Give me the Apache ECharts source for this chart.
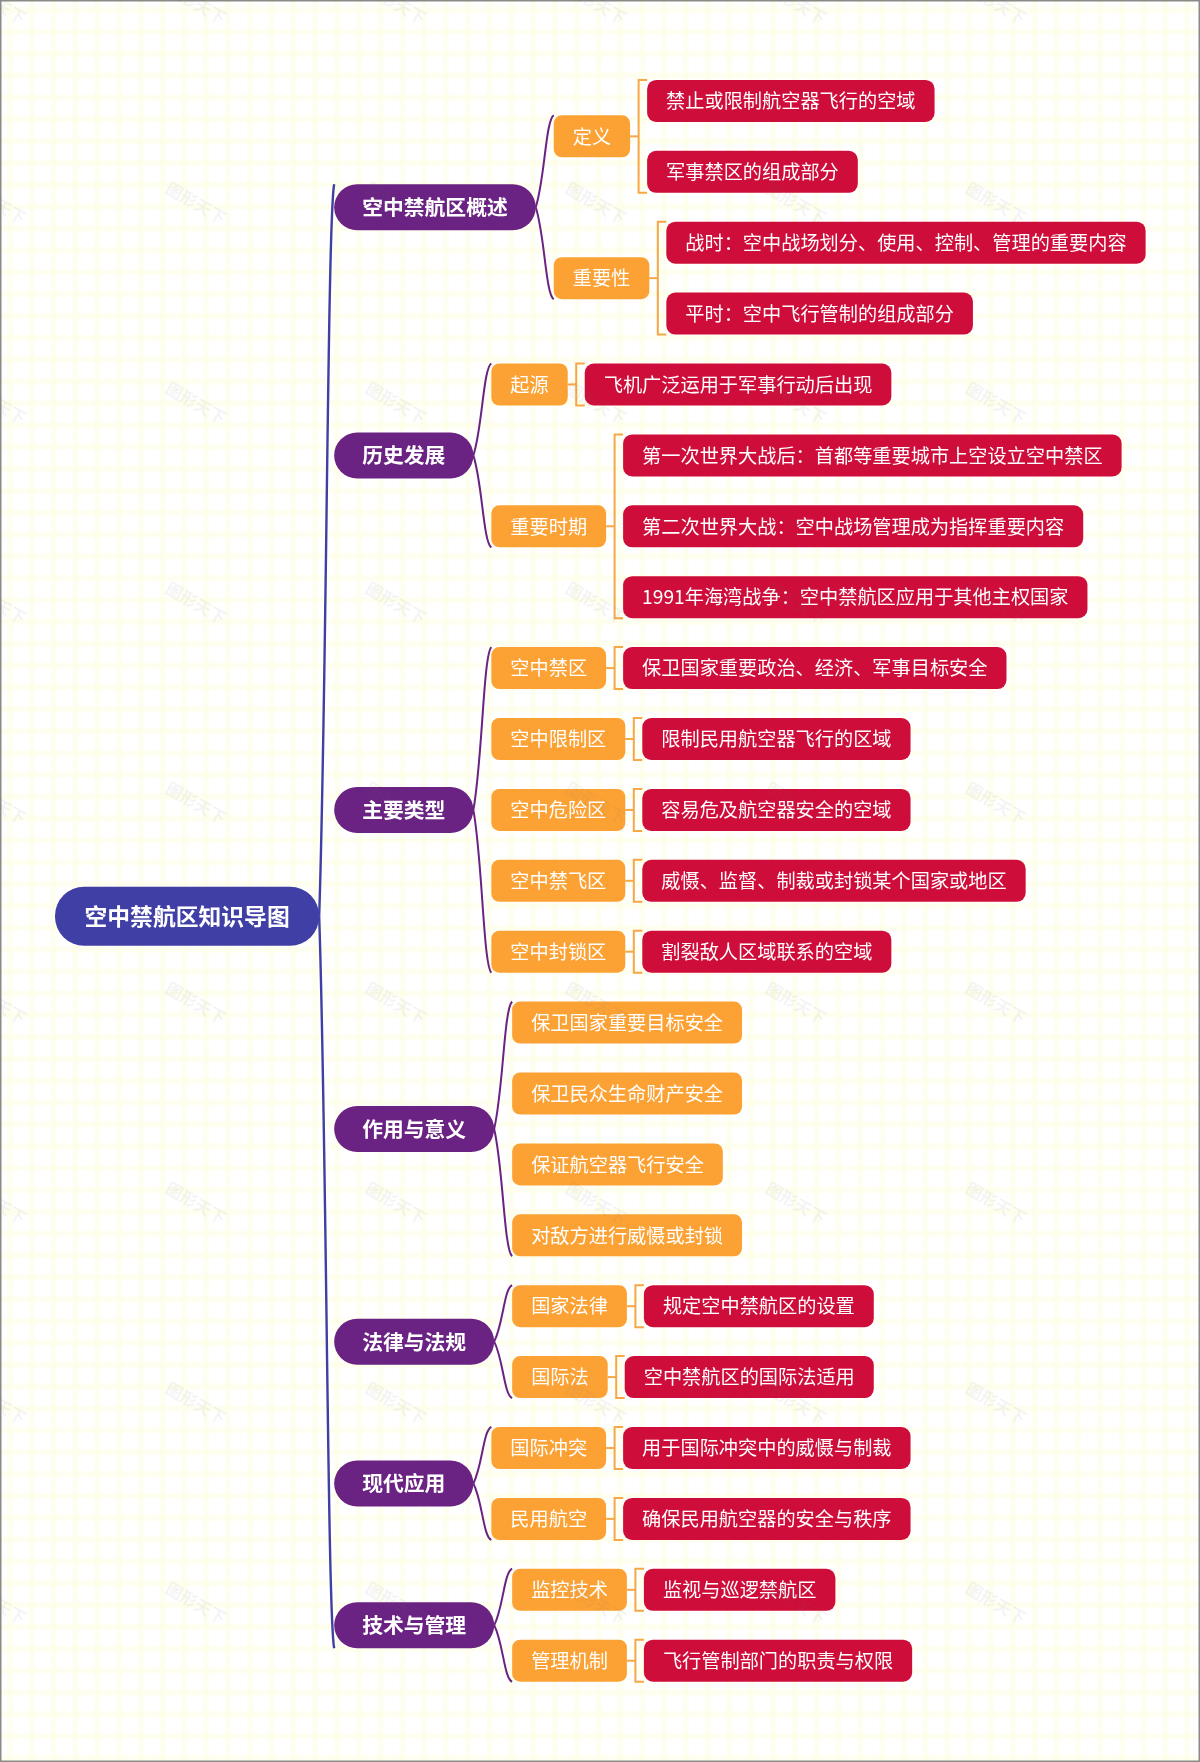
<!DOCTYPE html>
<html>
<head>
<meta charset="utf-8">
<title>空中禁航区知识导图</title>
<style>
    html, body { margin: 0; padding: 0; background: #fff; }
    #chart { width: 1200px; height: 1762px; }
</style>
<script src="https://cdn.jsdelivr.net/npm/echarts@6/dist/echarts.min.js"></script>
</head>
<body>
<div id="chart"></div>
<script>
const rootTitle = '空中禁航区知识导图';
const watermarkText = '图形天下';

const sectionTitles = ['空中禁航区概述', '历史发展', '主要类型', '作用与意义', '法律与法规', '现代应用', '技术与管理'];

const subTitles = [
    ['定义', '重要性'],
    ['起源', '重要时期'],
    ['空中禁区', '空中限制区', '空中危险区', '空中禁飞区', '空中封锁区'],
    ['保卫国家重要目标安全', '保卫民众生命财产安全', '保证航空器飞行安全', '对敌方进行威慑或封锁'],
    ['国家法律', '国际法'],
    ['国际冲突', '民用航空'],
    ['监控技术', '管理机制'],
];

const leafTitles = [
    [['禁止或限制航空器飞行的空域', '军事禁区的组成部分'], ['战时：空中战场划分、使用、控制、管理的重要内容', '平时：空中飞行管制的组成部分']],
    [['飞机广泛运用于军事行动后出现'], ['第一次世界大战后：首都等重要城市上空设立空中禁区', '第二次世界大战：空中战场管理成为指挥重要内容', '1991年海湾战争：空中禁航区应用于其他主权国家']],
    [['保卫国家重要政治、经济、军事目标安全'], ['限制民用航空器飞行的区域'], ['容易危及航空器安全的空域'], ['威慑、监督、制裁或封锁某个国家或地区'], ['割裂敌人区域联系的空域']],
    [[], [], [], []],
    [['规定空中禁航区的设置'], ['空中禁航区的国际法适用']],
    [['用于国际冲突中的威慑与制裁'], ['确保民用航空器的安全与秩序']],
    [['监视与巡逻禁航区'], ['飞行管制部门的职责与权限']],
];

const WIDTH = 1200;
const HEIGHT = 1762;
const FONT_FAMILY = '"Noto Sans CJK SC", "Noto Sans", sans-serif';

// 每层节点的样式
const levelStyle = [
    { fill: '#3F3FA5', h: 59, r: 29, pad: 29.5, font: `bold 22.8px ${FONT_FAMILY}` },
    { fill: '#6A2283', h: 46, r: 23, pad: 28, font: `bold 20.8px ${FONT_FAMILY}` },
    { fill: '#FCA234', h: 42, r: 8, pad: 19, font: `19.2px ${FONT_FAMILY}` },
    { fill: '#CF0D3A', h: 42, r: 9, pad: 19, font: `19.2px ${FONT_FAMILY}` },
];

const ROW_TOP = 100.9;
const ROW_PITCH = 70.9;
const ROOT_LEFT = 55;
const ROOT_GAP = 15;
const SUB_GAP = 18;
const LEAF_GAP = 17;
const BLUE_LINE = '#3F3FA5';
const PURPLE_LINE = '#6A2283';
const ORANGE_LINE = '#F6A746';

const measureCtx = document.createElement('canvas').getContext('2d');
const textWidth = (text, level) => {
    measureCtx.font = levelStyle[level].font;
    return measureCtx.measureText(text).width + levelStyle[level].pad * 2;
};

// 由层级关系算出节点位置：叶子按行排列，父节点居中
const nodes = [];
const braces = [];
const brackets = [];
let row = 0;

const addNode = (text, level, x, y) => {
    const node = { text, level, x, y, w: textWidth(text, level), h: levelStyle[level].h };
    nodes.push(node);
    return node;
};

const measureRows = () => {
    const sectionY = [];
    const subY = [];
    const leafY = [];
    subTitles.forEach((subs, i) => {
        subY[i] = [];
        leafY[i] = [];
        subs.forEach((sub, j) => {
            const leaves = leafTitles[i][j];
            if (leaves.length) {
                leafY[i][j] = leaves.map(() => ROW_TOP + ROW_PITCH * row++);
                subY[i][j] = (leafY[i][j][0] + leafY[i][j][leaves.length - 1]) / 2;
            } else {
                leafY[i][j] = [];
                subY[i][j] = ROW_TOP + ROW_PITCH * row++;
            }
        });
        sectionY[i] = (subY[i][0] + subY[i][subs.length - 1]) / 2;
    });
    return { sectionY, subY, leafY };
};

const { sectionY, subY, leafY } = measureRows();
const rootY = (sectionY[0] + sectionY[sectionY.length - 1]) / 2;
const rootNode = addNode(rootTitle, 0, ROOT_LEFT, rootY);
const sectionLeft = ROOT_LEFT + rootNode.w + ROOT_GAP;

braces.push({
    x0: rootNode.x + rootNode.w,
    y0: rootY,
    x1: sectionLeft,
    top: sectionY[0] - levelStyle[1].h / 2,
    bottom: sectionY[sectionY.length - 1] + levelStyle[1].h / 2,
    color: BLUE_LINE,
    width: 2.4,
});

sectionTitles.forEach((title, i) => {
    const section = addNode(title, 1, sectionLeft, sectionY[i]);
    const subLeft = section.x + section.w + SUB_GAP;
    braces.push({
        x0: section.x + section.w,
        y0: section.y,
        x1: subLeft,
        top: subY[i][0] - levelStyle[2].h / 2,
        bottom: subY[i][subY[i].length - 1] + levelStyle[2].h / 2,
        color: PURPLE_LINE,
        width: 2,
    });
    subTitles[i].forEach((subTitle, j) => {
        const sub = addNode(subTitle, 2, subLeft, subY[i][j]);
        const leaves = leafTitles[i][j];
        if (!leaves.length) return;
        const leafLeft = sub.x + sub.w + LEAF_GAP;
        leaves.forEach((leaf, k) => addNode(leaf, 3, leafLeft, leafY[i][j][k]));
        brackets.push({
            x0: sub.x + sub.w,
            y0: sub.y,
            x1: leafLeft,
            top: leafY[i][j][0] - levelStyle[3].h / 2,
            bottom: leafY[i][j][leaves.length - 1] + levelStyle[3].h / 2,
        });
    });
});

// 背景网格和水印的位置
const gridXs = [];
const gridYs = [];
for (let x = 10; x < WIDTH; x += 21.8) gridXs.push(x);
for (let y = 10; y < HEIGHT; y += 21.85) gridYs.push(y);
const marks = [];
for (let y = 3; y < HEIGHT; y += 200) {
    for (let x = -4; x < 1000; x += 200) marks.push([x, y]);
}

const chart = echarts.init(document.getElementById('chart'), null, { renderer: 'canvas' });

const renderBackdrop = (params, api) => {
    const size = api.size([1, 1]);
    const children = [];
    const band = (isX, at) => {
        const p = isX ? api.coord([at, 0]) : api.coord([0, at]);
        [[6, 'rgba(254,254,232,0.55)'], [2, 'rgba(254,254,226,0.2)']].forEach(([t, fill]) => {
            children.push({
                type: 'rect',
                shape: isX
                    ? { x: p[0] - t / 2, y: 0, width: t, height: HEIGHT * size[1] }
                    : { x: 0, y: p[1] - t / 2, width: WIDTH * size[0], height: t },
                style: { fill },
            });
        });
    };
    gridXs.forEach(x => band(true, x));
    gridYs.forEach(y => band(false, y));
    children.push({
        type: 'rect',
        shape: { x: 0.75, y: 0.75, width: WIDTH - 1.5, height: HEIGHT - 1.5 },
        style: { fill: 'none', stroke: '#8A8A86', lineWidth: 1.5 },
    });
    return { type: 'group', children };
};

const renderBrace = (params, api) => {
    const b = braces[params.dataIndex];
    const [x0, y0] = api.coord([b.x0, b.y0]);
    const x1 = api.coord([b.x1, 0])[0];
    const w = x1 - x0;
    const half = (yEnd) => ({
        type: 'bezierCurve',
        shape: {
            x1: x0,
            y1: y0,
            x2: x1,
            y2: yEnd,
            cpx1: x0 + w * 0.5,
            cpy1: y0 + (yEnd - y0) * 0.3,
            cpx2: x0 + w * 0.55,
            cpy2: y0 + (yEnd - y0) * 0.95,
        },
        style: { fill: 'none', stroke: b.color, lineWidth: b.width },
    });
    return {
        type: 'group',
        children: [half(api.coord([0, b.top])[1]), half(api.coord([0, b.bottom])[1])],
    };
};

const renderBracket = (params, api) => {
    const b = brackets[params.dataIndex];
    const [x0, y0] = api.coord([b.x0, b.y0]);
    const x1 = api.coord([b.x1, 0])[0];
    const top = api.coord([0, b.top])[1];
    const bottom = api.coord([0, b.bottom])[1];
    const mid = x1 - 8.5;
    const style = { fill: 'none', stroke: ORANGE_LINE, lineWidth: 2 };
    return {
        type: 'group',
        children: [
            { type: 'polyline', shape: { points: [[x0, y0], [mid, y0]] }, style },
            { type: 'polyline', shape: { points: [[x1, top], [mid, top], [mid, bottom], [x1, bottom]] }, style },
        ],
    };
};

const renderNode = (params, api) => {
    const n = nodes[params.dataIndex];
    const s = levelStyle[n.level];
    const [x, y] = api.coord([n.x, n.y]);
    return {
        type: 'group',
        children: [
            { type: 'rect', shape: { x, y: y - n.h / 2, width: n.w, height: n.h, r: s.r }, style: { fill: s.fill } },
            {
                type: 'text',
                style: { x: x + n.w / 2, y, text: n.text, font: s.font, fill: '#fff', align: 'center', verticalAlign: 'middle' },
            },
        ],
    };
};

const renderMark = (params, api) => {
    const [x, y] = api.coord([api.value(0), api.value(1)]);
    return {
        type: 'text',
        x,
        y,
        rotation: -Math.PI / 6,
        style: {
            x: 0,
            y: 0,
            text: watermarkText,
            font: `bold 16.5px ${FONT_FAMILY}`,
            fill: 'rgba(120,120,120,0.08)',
            align: 'center',
            verticalAlign: 'middle',
        },
    };
};

const customSeries = (name, data, renderItem, z) => ({
    name,
    type: 'custom',
    coordinateSystem: 'cartesian2d',
    data,
    renderItem,
    z,
    silent: true,
    clip: false,
    animation: false,
    encode: { x: 0, y: 1 },
});

chart.setOption({
    animation: false,
    backgroundColor: '#FFFFFF',
    grid: { left: 0, right: 0, top: 0, bottom: 0 },
    xAxis: { type: 'value', min: 0, max: WIDTH, show: false },
    yAxis: { type: 'value', min: 0, max: HEIGHT, inverse: true, show: false },
    series: [
        customSeries('backdrop', [[0, 0]], renderBackdrop, 1),
        customSeries('braces', braces.map(b => [b.x0, b.y0]), renderBrace, 2),
        customSeries('brackets', brackets.map(b => [b.x0, b.y0]), renderBracket, 2),
        customSeries('nodes', nodes.map(n => [n.x, n.y]), renderNode, 3),
        customSeries('watermark', marks, renderMark, 4),
    ],
});

window.addEventListener('resize', () => chart.resize());
</script>
</body>
</html>
